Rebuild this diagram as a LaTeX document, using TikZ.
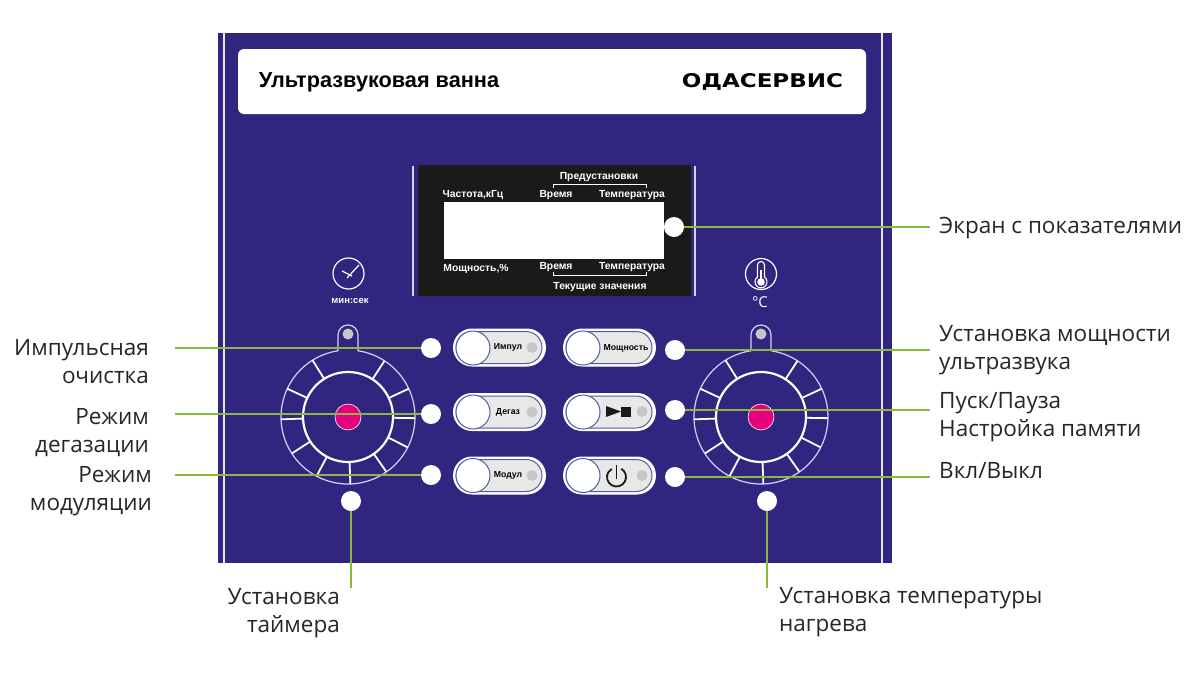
\documentclass[tikz,border=0pt]{standalone}
\usepackage{fontspec}
\setmainfont{Open Sans}
\newfontfamily\arialfont{Liberation Sans}
\newfontfamily\logofont{DejaVu Sans}
\definecolor{panelblue}{HTML}{30267F}
\definecolor{stripelilac}{HTML}{D6D0F5}
\definecolor{screenblack}{HTML}{1A1A18}
\definecolor{leadgreen}{HTML}{8DB83F}
\definecolor{pillgrey}{HTML}{E8E8E8}
\definecolor{pillline}{HTML}{4F5F9F}
\definecolor{lampgrey}{HTML}{C6C6C6}
\definecolor{knobpink}{HTML}{E6007E}
\tikzset{
  dot/.style={circle, fill=white, minimum size=20pt, inner sep=0pt},
  lead/.style={draw=leadgreen, line width=1.2pt},
  caption/.style={font=\fontsize{22.5}{28}\selectfont, inner sep=0pt, text=black!85},
  scrtext/.style={font=\arialfont\fontsize{10.3}{11}\selectfont\bfseries, text=white, inner sep=0pt},
  btntext/.style={font=\arialfont\fontsize{8.7}{9}\selectfont\bfseries, text=black, inner sep=0pt},
  pillout/.style={rectangle, fill=white, rounded corners=19pt, minimum width=93pt, minimum height=38pt},
  pillin/.style={rectangle, fill=pillgrey, draw=pillline, line width=1pt, rounded corners=16pt, minimum width=86pt, minimum height=32pt},
  pillcap/.style={circle, fill=white, draw=pillline, line width=1pt, minimum size=34pt, inner sep=0pt},
  lamp/.style={circle, fill=lampgrey, minimum size=11pt, inner sep=0pt},
  pinkdot/.style={circle, fill=knobpink, draw=white, line width=0.6pt, minimum size=26pt, inner sep=0pt},
}
\newcommand{\knobdial}[3]{%
  \draw[stripelilac, line width=1.2pt] (#1,#2) ++(81.4:67pt) arc[start angle=81.4, end angle=-261.4, radius=67pt];
  \draw[stripelilac, line width=1.2pt] (#1-10,351) -- (#1-10,335) arc[start angle=180, end angle=0, radius=10pt] -- (#1+10,351);
  \draw[white, line width=2.2pt] (#1,#2) circle[radius=45pt];
  \foreach \ang in {122,57,25,155,182,-1,213,-27,242,-55,-88}
    \draw[white, line width=1.8pt] (#1,#2) ++(\ang:45pt) -- ++(\ang:22pt);
  \node[lamp] (#3lamp) at (#1,334) {};
  \node[pinkdot] (#3pink) at (#1,#2) {};
}
\begin{document}
\begin{tikzpicture}[x=1pt,y=-1pt]
\useasboundingbox[fill=white] (0,0) rectangle (1200,675);
\fill[panelblue] (218,33) rectangle (892,563);
\draw[stripelilac!60!white, line width=1.6pt] (224,33) -- (224,563);
\draw[stripelilac!60!white, line width=1.6pt] (882,33) -- (882,563);
\fill[white, rounded corners=6pt] (238,49) rectangle (866,114);
\node[font=\arialfont\fontsize{21.7}{24}\selectfont\bfseries, text=black, inner sep=0pt] (title) at (379,82) {Ультразвуковая ванна};
\node[font=\logofont\bfseries, text=black, inner sep=0pt] (logo) at (762.5,82) {\resizebox{161pt}{14pt}{ОДАСЕРВИС}};

\fill[screenblack, rounded corners=1pt] (418,165) rectangle (691,296);
\draw[stripelilac, line width=1.3pt] (413,166) -- (413,296);
\draw[stripelilac, line width=1.3pt] (695,166) -- (695,296);
\fill[white] (444,202) rectangle (664,259);
\node[scrtext] (preset) at (599,177.5) {Предустановки};
\node[scrtext] (freq) at (473,195) {Частота,кГц};
\node[scrtext] (ptime) at (556,195) {Время};
\node[scrtext] (ptemp) at (632,195) {Температура};
\node[scrtext] (power) at (476,268.5) {Мощность,\%};
\node[scrtext] (ctime) at (556,267) {Время};
\node[scrtext] (ctemp) at (632,267) {Температура};
\node[scrtext] (current) at (600,287) {Текущие значения};
\draw[white, line width=0.8pt] (553,188) -- (553,184.5) -- (646,184.5) -- (646,188);
\draw[white, line width=0.8pt] (553,272) -- (553,275.5) -- (646,275.5) -- (646,272);

\draw[white, line width=1.2pt] (348.5,273.5) circle[radius=15.5pt];
\draw[white, line width=1.2pt] (342,271) -- (352,276);
\draw[white, line width=1.2pt] (347,278) -- (359,265);
\node[font=\arialfont\fontsize{9.5}{10}\selectfont\bfseries, text=white, inner sep=0pt] (minsec) at (350,301) {мин:сек};
\draw[white, line width=1.2pt] (761,274) circle[radius=15.5pt];
\draw[white, line width=1.1pt] (757.5,277) -- (757.5,265) arc[start angle=180, end angle=0, radius=3.5pt] -- (764.5,277) arc[start angle=54, end angle=-234, radius=6pt] -- cycle;
\fill[white] (761,282) circle[radius=3.8pt];
\fill[white] (760,270) rectangle (762,282);
\node[font=\fontsize{15}{16}\selectfont, text=white, inner sep=0pt] (celsius) at (760,302) {°C};

\knobdial{348}{417}{left}
\knobdial{761}{417}{right}

\node[pillout] (imp) at (499.5,347.5) {};
\node[pillin] (impin) at (499,347.5) {};
\node[pillcap] (impcap) at (473,348) {};
\node[btntext] (implabel) at (508,347) {Импул};
\node[lamp] (implamp) at (532,347.5) {};
\node[pillout] (deg) at (499.5,412) {};
\node[pillin] (degin) at (499,412) {};
\node[pillcap] (degcap) at (473,412) {};
\node[btntext] (deglabel) at (508,412) {Дегаз};
\node[lamp] (deglamp) at (532,412) {};
\node[pillout] (mod) at (499.5,475.5) {};
\node[pillin] (modin) at (499,475.5) {};
\node[pillcap] (modcap) at (473,475.5) {};
\node[btntext] (modlabel) at (508,475.5) {Модул};
\node[lamp] (modlamp) at (532,475.5) {};
\node[pillout] (pow) at (609.5,347.5) {};
\node[pillin] (powin) at (609,347.5) {};
\node[pillcap] (powcap) at (583,348) {};
\node[btntext] (powlabel) at (626,348) {Мощность};
\node[pillout] (run) at (609.5,412) {};
\node[pillin] (runin) at (609,412) {};
\node[pillcap] (runcap) at (583,412) {};
\node[lamp] (runlamp) at (642,411.5) {};
\node[pillout] (onoff) at (609.5,475.5) {};
\node[pillin] (onoffin) at (609,475.5) {};
\node[pillcap] (onoffcap) at (583,475.5) {};
\node[lamp] (onofflamp) at (642,475.5) {};
\fill[screenblack] (606,406) -- (621,411.5) -- (606,417) -- cycle;
\fill[screenblack] (621,407) rectangle (631,416.5);
\draw[screenblack, line width=1.8pt] (616.5,477) ++(60:9.5pt) arc[start angle=60, end angle=-240, radius=9.5pt];
\draw[screenblack, line width=1.8pt] (616.5,465) -- (616.5,479);

\node[dot] (dscreen) at (674,227) {};
\node[dot] (dimp) at (431,348) {};
\node[dot] (ddeg) at (431,414) {};
\node[dot] (dmod) at (431,475) {};
\node[dot] (dpow) at (675,350) {};
\node[dot] (drun) at (675,410) {};
\node[dot] (donoff) at (675,477) {};
\node[dot] (dtimer) at (351,501) {};
\node[dot] (dtemp) at (767,501) {};

\coordinate (escreen) at (930,227);
\coordinate (eimp) at (175,348);
\coordinate (edeg) at (175,414);
\coordinate (emod) at (175,475);
\coordinate (epow) at (930,350);
\coordinate (erun) at (930,410);
\coordinate (eonoff) at (930,477);
\coordinate (etimer) at (351,588);
\coordinate (etemp) at (767,588);
\draw[lead] (dscreen) -- (escreen);
\draw[lead] (dimp) -- (eimp);
\draw[lead] (ddeg) -- (edeg);
\draw[lead] (dmod) -- (emod);
\draw[lead] (dpow) -- (epow);
\draw[lead] (drun) -- (erun);
\draw[lead] (donoff) -- (eonoff);
\draw[lead] (dtimer) -- (etimer);
\draw[lead] (dtemp) -- (etemp);

\node[caption, anchor=west] (tscreen) at (939,228) {Экран с показателями};
\node[caption, anchor=east, align=right] (timp) at (149,362) {Импульсная\\очистка};
\node[caption, anchor=east, align=right] (tdeg) at (149,433) {Режим\\дегазации};
\node[caption, anchor=east, align=right] (tmod) at (152,491) {Режим\\модуляции};
\node[caption, anchor=west, align=left] (tpow) at (939,350.5) {Установка мощности\\ультразвука};
\node[caption, anchor=west, align=left] (trun) at (939,417) {Пуск/Пауза\\Настройка памяти};
\node[caption, anchor=west] (tonoff) at (939,471) {Вкл/Выкл};
\node[caption, anchor=east, align=right] (ttimer) at (340,613.5) {Установка\\таймера};
\node[caption, anchor=west, align=left] (ttemp) at (779,612) {Установка температуры\\нагрева};
\end{tikzpicture}
\end{document}
